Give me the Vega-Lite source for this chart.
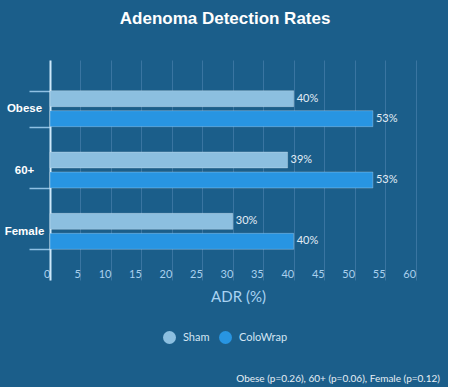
{
  "$schema": "https://vega.github.io/schema/vega-lite/v6.json",
  "background": "#1b5e8a",
  "padding": {"left": 4, "right": 2, "top": 10, "bottom": 3},
  "title": {
    "text": "Obese (p=0.26), 60+ (p=0.06), Female (p=0.12)",
    "orient": "bottom",
    "anchor": "end",
    "font": "Lato",
    "fontSize": 10,
    "fontWeight": "normal",
    "color": "#e6eef5",
    "offset": 30,
    "dx": -6
  },
  "data": {
    "values": [
      {"group": "Obese", "series": "Sham", "adr": 40, "label": "40%"},
      {"group": "Obese", "series": "ColoWrap", "adr": 53, "label": "53%"},
      {"group": "60+", "series": "Sham", "adr": 39, "label": "39%"},
      {"group": "60+", "series": "ColoWrap", "adr": 53, "label": "53%"},
      {"group": "Female", "series": "Sham", "adr": 30, "label": "30%"},
      {"group": "Female", "series": "ColoWrap", "adr": 40, "label": "40%"}
    ]
  },
  "vconcat": [
    {
      "width": 396,
      "height": 220,
      "title": {
        "text": "Adenoma Detection Rates",
        "font": "Liberation Sans",
        "fontSize": 17,
        "fontWeight": "bold",
        "color": "#ffffff",
        "anchor": "middle",
        "frame": "bounds",
        "offset": 26
      },
      "encoding": {
        "y": {
          "field": "group",
          "type": "nominal",
          "sort": ["Obese", "60+", "Female"],
          "scale": {"paddingInner": 0.413, "paddingOuter": 0.5},
          "axis": {
            "title": null,
            "grid": false,
            "domain": true,
            "domainColor": "#cde8fa",
            "domainWidth": 2,
            "ticks": true,
            "tickBand": "extent",
            "tickSize": 21,
            "tickColor": "#8fc0e3",
            "tickWidth": 1.5,
            "labelFont": "Liberation Sans",
            "labelFontSize": 11.5,
            "labelFontWeight": "bold",
            "labelColor": "#ffffff",
            "labelAlign": "center",
            "labelPadding": 5
          }
        },
        "yOffset": {
          "field": "series",
          "type": "nominal",
          "sort": ["Sham", "ColoWrap"],
          "scale": {"paddingInner": 0.2, "paddingOuter": 0}
        },
        "x": {
          "field": "adr",
          "type": "quantitative",
          "scale": {"domain": [0, 65], "nice": false},
          "axis": {
            "title": "ADR (%)",
            "values": [0, 5, 10, 15, 20, 25, 30, 35, 40, 45, 50, 55, 60],
            "grid": true,
            "gridColor": "#3a75a1",
            "gridWidth": 1,
            "domain": false,
            "ticks": false,
            "tickSize": 0,
            "labelAlign": "right",
            "labelDx": -3,
            "labelBaseline": "bottom",
            "labelPadding": -1,
            "labelFlush": false,
            "labelOverlap": false,
            "labelFont": "Lato",
            "labelFontSize": 11,
            "labelColor": "#a9d0ee",
            "titleFont": "Lato",
            "titleFontSize": 15,
            "titleFontWeight": "normal",
            "titleColor": "#a9d3f2",
            "titlePadding": 9,
            "titleX": 188
          }
        }
      },
      "layer": [
        {
          "mark": {"type": "bar", "stroke": "#ffffff", "strokeOpacity": 0.25, "strokeWidth": 1},
          "encoding": {
            "color": {
              "field": "series",
              "type": "nominal",
              "sort": ["Sham", "ColoWrap"],
              "scale": {"domain": ["Sham", "ColoWrap"], "range": ["#8cbfe0", "#2895e2"]},
              "legend": {
                "title": null,
                "orient": "none",
                "direction": "horizontal",
                "legendX": 113,
                "legendY": 271,
                "symbolType": "circle",
                "symbolSize": 169,
                "symbolStrokeWidth": 0,
                "symbolOpacity": 1,
                "labelFont": "Lato",
                "labelFontSize": 11,
                "labelColor": "#d2e5f3",
                "labelOffset": 7,
                "columnPadding": 9
              }
            }
          }
        },
        {
          "mark": {"type": "text", "align": "left", "baseline": "middle", "dx": 3, "font": "Lato", "fontSize": 11, "color": "#e3edf6"},
          "encoding": {
            "text": {"field": "label", "type": "nominal"}
          }
        }
      ]
    }
  ],
  "config": {
    "view": {"stroke": null},
    "concat": {"spacing": 0}
  }
}
